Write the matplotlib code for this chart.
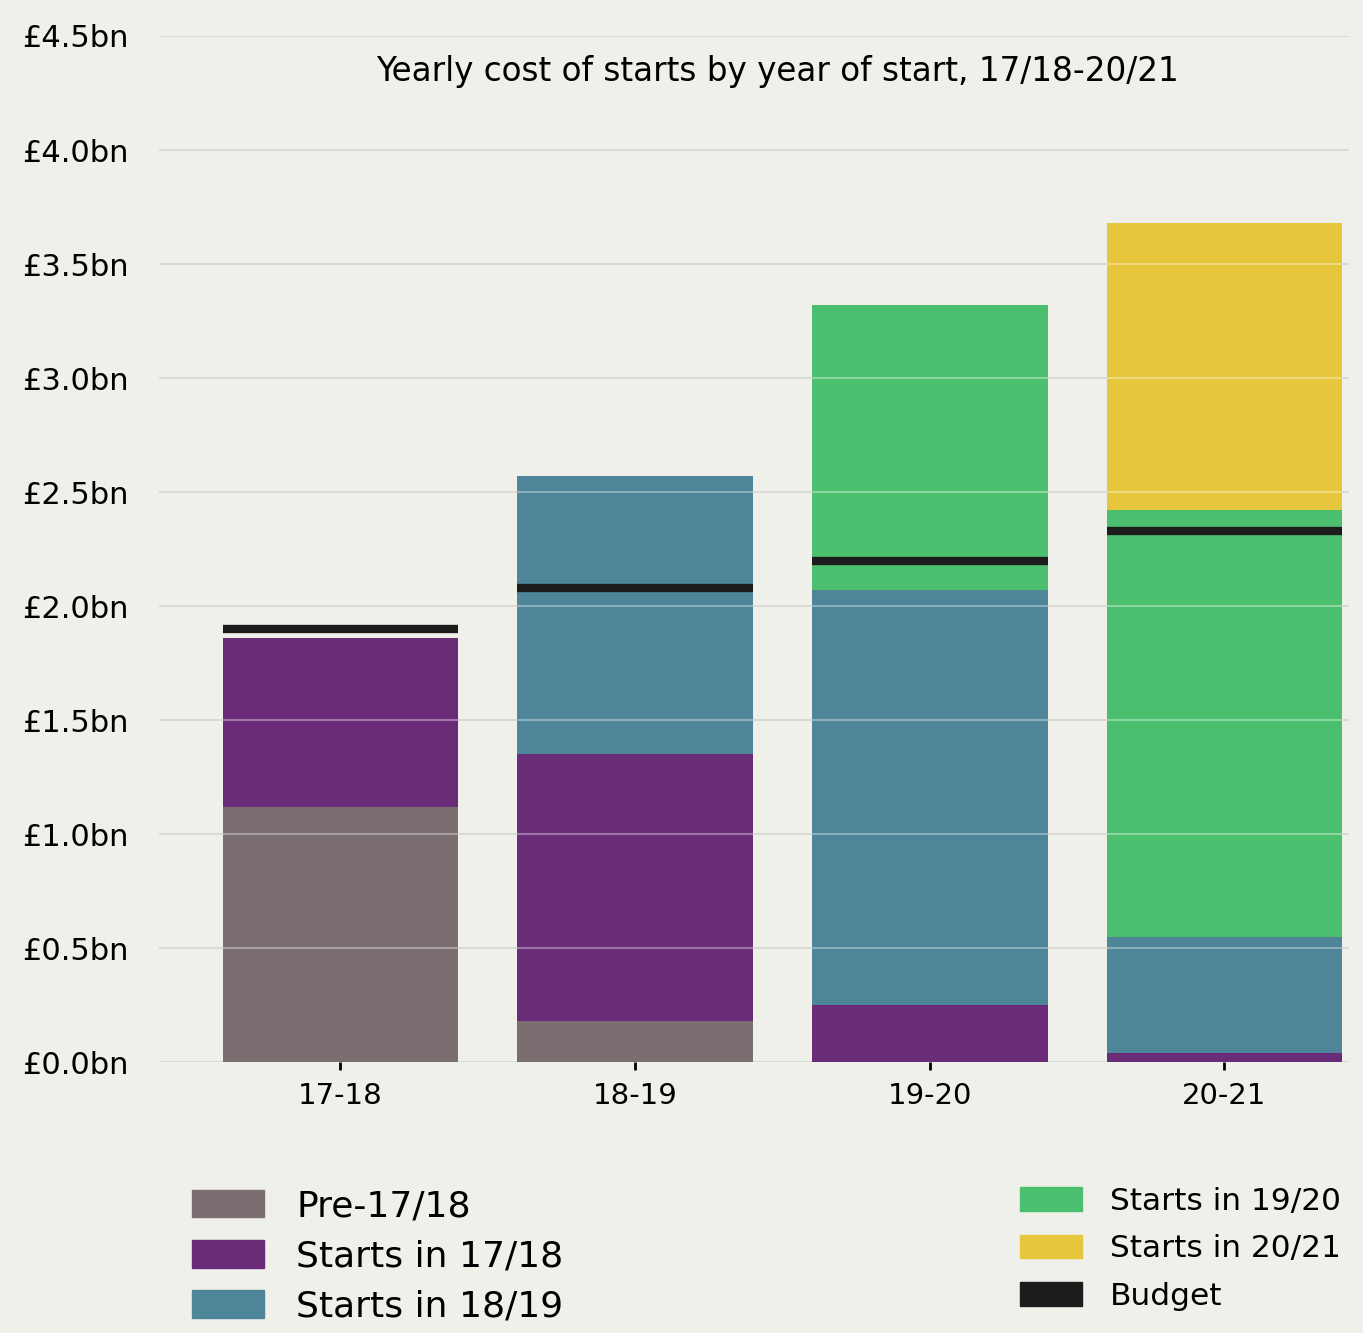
"""
Yearly cost of starts by year of start, stacked bars with budget markers
"""
import matplotlib.pyplot as plt
import numpy as np
from matplotlib.patches import Patch

years = ['17-18', '18-19', '19-20', '20-21']

# cost in £bn per segment
pre_1718 = [1.12, 0.18, 0.0, 0.0]
starts_1718 = [0.74, 1.17, 0.25, 0.04]
starts_1819 = [0.0, 1.22, 1.82, 0.51]
starts_1920 = [0.0, 0.0, 1.25, 1.87]
starts_2021 = [0.0, 0.0, 0.0, 1.26]
budget = [1.90, 2.08, 2.20, 2.33]

series = [pre_1718, starts_1718, starts_1819, starts_1920, starts_2021]
labels = ['Pre-17/18', 'Starts in 17/18', 'Starts in 18/19',
          'Starts in 19/20', 'Starts in 20/21']
colors = ['#7b6e70', '#6a2c78', '#4f8599', '#4cbf6e', '#e6c63a']
bg = '#eff0ea'

fig = plt.figure(figsize=[13.63, 13.33], dpi=100, facecolor=bg)
ax = fig.add_axes([0.117, 0.203, 0.873, 0.77])
ax.set_facecolor(bg)

x = np.arange(len(years))
w = 0.8
bottom = np.zeros(len(years))
for vals, lab, col in zip(series, labels, colors):
    ax.bar(x, vals, w, bottom=bottom, color=col, label=lab, zorder=2)
    bottom += np.array(vals)
totals = bottom

# budget markers across each bar
ax.hlines(budget, x - w / 2, x + w / 2, colors='#1c1c1c', linewidth=6, zorder=4)

# gridlines: grey on background, faint white over bars
ticks = np.arange(0, 4.51, 0.5)
ax.set_yticks(ticks)
ax.set_yticklabels([f'£{t:.1f}bn' for t in ticks], fontsize=22)
ax.yaxis.grid(True, color='#d6d6d0', linewidth=1.2, zorder=0)
for xi, tot in zip(x, totals):
    inside = ticks[(ticks > 0) & (ticks < tot)]
    ax.hlines(inside, xi - w / 2, xi + w / 2, colors='white', linewidth=1.5,
              alpha=0.35, zorder=3)
ax.set_xticks(x)
ax.set_xticklabels(years, fontsize=21)
ax.tick_params(axis='y', length=0, pad=22)
ax.tick_params(axis='x', length=6, width=2, pad=8)
ax.set_xlim(-0.614, 3.424)
ax.set_ylim(0, 4.5)
for s in ax.spines.values():
    s.set_visible(False)

fig.text(0.57, 0.946, 'Yearly cost of starts by year of start, 17/18-20/21',
         ha='center', va='center', fontsize=23.5)

# legends, two groups of three
handles = [Patch(color=c) for c in colors] + [Patch(color='#1c1c1c')]
names = labels + ['Budget']
leg_kw = dict(frameon=False, handlelength=2.0, handleheight=0.8,
              handletextpad=0.9, borderpad=0.2)
fig.legend(handles[:3], names[:3], loc='lower left', fontsize=26,
           labelspacing=0.45, bbox_to_anchor=(0.122, -0.012), **leg_kw)
fig.legend(handles[3:], names[3:], loc='lower right', fontsize=22.5,
           labelspacing=0.6, bbox_to_anchor=(1.0, 0.0), **leg_kw)

plt.savefig('out.png', facecolor=bg)
